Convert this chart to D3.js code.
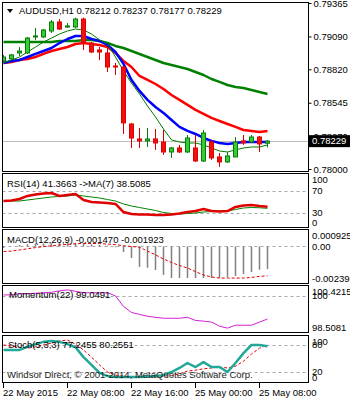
<!DOCTYPE html>
<html>
<head>
<meta charset="utf-8">
<script src="https://cdn.jsdelivr.net/npm/d3@7"></script>
<style>
body{margin:0;background:#fff}
svg text{font-family:"Liberation Sans",Arial,sans-serif;font-size:9.5px;fill:#000}
</style>
</head>
<body>
<div id="plot"></div>
<script>
// hourly AUDUSD bars, 22 May 00:00 .. 25 May 09:00
var timeLabels = ['22 May 2015','22 May 08:00','22 May 16:00','25 May 00:00','25 May 08:00'];
var timeTicks = [0,8,16,24,32];

var openP  = [.78888,.78905,.78954,.78954,.79086,.79086,.79135,.79209,.79168,.79168,.79233,.79036,.78979,.78954,.78847,.78839,.78370,.78247,.78231,.78247,.78222,.78140,.78173,.78140,.78173,.78066,.78222,.78099,.78058,.78099,.78231,.78222,.78263,.78212];
var highP  = [.78938,.78946,.79003,.79086,.79160,.79151,.79225,.79233,.79200,.79245,.79245,.79044,.79003,.78995,.78872,.78847,.78379,.78338,.78338,.78329,.78321,.78181,.78198,.78280,.78280,.78321,.78239,.78132,.78140,.78263,.78280,.78280,.78272,.78237];
var lowP   = [.78872,.78896,.78929,.78946,.79061,.79077,.79118,.79143,.79160,.79160,.78979,.78954,.78896,.78798,.78773,.78288,.78173,.78173,.78181,.78157,.78116,.78091,.78132,.78132,.78058,.78058,.78075,.78017,.78050,.78099,.78198,.78214,.78140,.78177];
var closeP = [.78921,.78938,.78970,.79077,.79094,.79143,.79209,.79151,.79176,.79233,.79044,.78962,.78962,.78839,.78839,.78379,.78255,.78231,.78247,.78214,.78140,.78173,.78140,.78255,.78066,.78296,.78091,.78058,.78107,.78222,.78214,.78263,.78206,.78229];

var maFast = [.78872,.78896,.78921,.78962,.79003,.79044,.79077,.79110,.79135,.79151,.79143,.79110,.79061,.79028,.78921,.78806,.78707,.78617,.78518,.78428,.78329,.78239,.78222,.78214,.78214,.78198,.78173,.78148,.78140,.78157,.78173,.78181,.78181,.78198];
var maMid  = [.78872,.78888,.78896,.78921,.78946,.78970,.78995,.79036,.79069,.79094,.79094,.79069,.79053,.79020,.78962,.78864,.78732,.78642,.78568,.78510,.78461,.78403,.78346,.78313,.78288,.78255,.78231,.78214,.78206,.78214,.78222,.78222,.78222,.78222];
var maSlow = [.78872,.78880,.78896,.78905,.78921,.78946,.78970,.78987,.79003,.79028,.79036,.79028,.79020,.79003,.78954,.78888,.78839,.78765,.78732,.78699,.78658,.78609,.78568,.78527,.78486,.78453,.78420,.78395,.78370,.78346,.78321,.78313,.78305,.78313];
var maLong = [.79044,.79044,.79044,.79044,.79044,.79044,.79044,.79053,.79053,.79053,.79061,.79061,.79053,.79036,.79012,.78995,.78970,.78946,.78921,.78896,.78872,.78855,.78839,.78822,.78798,.78773,.78740,.78716,.78691,.78675,.78666,.78650,.78633,.78617];

var priceTicks = [0.79365,0.79090,0.78820,0.78545,0.78270,0.78000];
var lastPrice = 0.78229;

var rsi   = [51.8,52.7,55.5,61,63.6,65.5,66.4,61,62.7,64.5,53.6,50,49,48,46.4,31.8,28.2,27.3,27.3,26.4,26.4,27.3,29,31.8,33.6,37.3,33.6,32.7,33.6,41,43.6,44.5,42.7,41.37];
var rsiMa = [51.8,51.8,51.8,53.6,55.5,57.3,59.1,60,61,62.7,61,59.1,57.3,54.5,51.8,46.4,42.7,40,37.3,34.5,30.9,29.1,28.2,29.1,30,31.8,32.7,33.6,33.6,36.4,39.1,40,39.5,38.51];

var macdMain   = [-0.0001,0,0.0001,0.00015,0.0002,0.0002,0.00022,0.00025,0.00024,0.00025,0.0002,0.00015,0.0001,0.00005,-0.00005,-0.00036,-0.00075,-0.00135,-0.0014,-0.00155,-0.00187,-0.00207,-0.00207,-0.00207,-0.00207,-0.00207,-0.00207,-0.00207,-0.002,-0.00194,-0.0018,-0.00167,-0.00152,-0.00147];
var macdSignal = [-0.00033,-0.0003,-0.00023,-0.00015,-0.00007,-0.00001,0.00005,0.0001,0.00014,0.00018,0.0002,0.0002,0.00019,0.00016,0.00012,0.00005,0,-0.00005,-0.0003,-0.00055,-0.00082,-0.00105,-0.00125,-0.00141,-0.00165,-0.00187,-0.002,-0.00207,-0.00207,-0.00207,-0.00207,-0.00203,-0.00196,-0.001923];

var momentum = [100.05,100.05,100.10,100.10,100.12,100.14,100.16,100.22,100.26,100.20,100.14,100.14,100.14,100.14,100.01,99.57,99.32,99.24,99.16,99.12,99.08,99.08,99.08,99.12,98.99,98.96,98.92,98.75,98.67,98.79,98.79,98.79,98.92,99.0491];

var stochMain   = [69,69,69,76,82,87,89,87,82,75,53,36,18,11,9,9,9,9,10,11,13,20,29,40,31,42,31,31,20,40,62,80,80,77.2455];
var stochSignal = [80,78,75,73,76,80,84,89,91,82,69,53,36,20,13,11,9,9,9,9,11,12,16,22,24,27,29,31,29,33,44,60,73,80.2551];

//Set up the drawing environment here
var width = 350, height = 400;
var left = 2.5, right = 308.5;

var svg = d3.select('#plot')
	.append('svg')
	.attr('width',width)
	.attr('height',height);

var panels = {
	main:{t:2.5,b:171.5},
	rsi:{t:173.5,b:227.5},
	macd:{t:229.5,b:283.5},
	mom:{t:285.5,b:332.5},
	sto:{t:335.5,b:382.5}
};

var x = d3.scaleLinear().domain([0,33]).range([3.5,267.5]);
var idx = d3.range(openP.length);

var yMain = d3.scaleLinear().domain([0.78000,0.79365]).range([169,3]);
var yRsi = d3.scaleLinear().domain([0,100]).range([229.5,174.5]);
var yMacd = d3.scaleLinear().domain([-0.002395,0.000925]).range([283,232.4]);
var yMom = d3.scaleLinear().domain([98.5081,100.4215]).range([332,286]);
var ySto = d3.scaleLinear().domain([0,100]).range([381,336]);

// clip paths for each panel
Object.keys(panels).forEach(function(k){
	var p = panels[k];
	svg.append('clipPath').attr('id','clip-'+k)
		.append('rect').attr('x',left).attr('y',p.t).attr('width',right-left).attr('height',p.b-p.t);
});

function layer(k){
	return svg.append('g').attr('clip-path','url(#clip-'+k+')');
}

function drawLine(g, values, yScale, color, w, dash){
	var line = d3.line().x(function(d,i){return x(i);}).y(function(d){return yScale(d);});
	g.append('path')
		.datum(values)
		.attr('d',line)
		.attr('fill','none')
		.attr('stroke',color)
		.attr('stroke-width',w)
		.attr('stroke-dasharray',dash||null)
		.attr('stroke-linejoin','round');
}

function hLine(g, yv, dash, color){
	g.append('line')
		.attr('x1',left).attr('x2',right)
		.attr('y1',Math.round(yv)+0.5).attr('y2',Math.round(yv)+0.5)
		.attr('stroke',color||'#a8a8a8')
		.attr('stroke-dasharray',dash||null);
}

// right side labels of sub windows, kept inside the panel
function sideLabels(vals, yScale, p, fmt){
	svg.append('g').selectAll('text')
		.data(vals)
		.enter().append('text')
		.attr('x',312)
		.attr('y',function(d){return Math.max(p.t+6,Math.min(p.b-5,yScale(d)));})
		.attr('dy','0.35em')
		.text(fmt);
}

// ---------- main window ----------
var gMain = layer('main');
hLine(gMain, yMain(lastPrice), null, '#c0c0c0');

drawLine(gMain, maLong, yMain, '#008000', 2.5);
drawLine(gMain, maSlow, yMain, '#ff0000', 2.5);
drawLine(gMain, maMid, yMain, '#0000ff', 2.5);
drawLine(gMain, maFast, yMain, '#007a00', 1);

var candles = gMain.selectAll('g.candle')
	.data(idx)
	.enter().append('g')
	.attr('class','candle');

candles.append('line')
	.attr('x1',function(i){return x(i);})
	.attr('x2',function(i){return x(i);})
	.attr('y1',function(i){return yMain(highP[i]);})
	.attr('y2',function(i){return yMain(lowP[i]);})
	.attr('stroke',function(i){return closeP[i]>=openP[i]?'#0b7a0b':'#d40000';});

candles.append('rect')
	.attr('x',function(i){return x(i)-2;})
	.attr('width',4)
	.attr('y',function(i){return yMain(Math.max(openP[i],closeP[i]));})
	.attr('height',function(i){return Math.max(1,Math.abs(yMain(openP[i])-yMain(closeP[i])));})
	.attr('fill',function(i){return closeP[i]>=openP[i]?'#33cc33':'#ee1111';})
	.attr('stroke',function(i){return closeP[i]>=openP[i]?'#0b7a0b':'#e00000';});

// price axis
var priceAxis = d3.axisRight(yMain)
	.tickValues(priceTicks)
	.tickSize(3)
	.tickPadding(2)
	.tickFormat(d3.format('.5f'));
var gAx = svg.append('g').attr('transform','translate('+right+',0)').call(priceAxis);
gAx.select('.domain').remove();
gAx.selectAll('text').style('font-family','"Liberation Sans",Arial,sans-serif').style('font-size','9.5px').attr('fill','#000');
gAx.selectAll('line').attr('stroke','#000');

// last price box
svg.append('rect').attr('x',309).attr('y',yMain(lastPrice)-6).attr('width',41).attr('height',12).attr('fill','#000');
svg.append('text').attr('x',312).attr('y',yMain(lastPrice)).attr('dy','0.35em').style('fill','#fff').text(lastPrice.toFixed(5));

// title
svg.append('path').attr('d','M7,9 L13,9 L10,13 Z').attr('fill','#000');
svg.append('text').attr('x',19).attr('y',14)
	.text('AUDUSD,H1 '+openP[33].toFixed(5)+' '+highP[33].toFixed(5)+' '+lowP[33].toFixed(5)+' '+closeP[33].toFixed(5));

// ---------- RSI ----------
var gRsi = layer('rsi');
hLine(gRsi, yRsi(70), '3,3');
hLine(gRsi, yRsi(30), '3,3');
drawLine(gRsi, rsiMa, yRsi, '#008000', 1);
drawLine(gRsi, rsi, yRsi, '#e00000', 2.5);
svg.append('text').attr('x',7).attr('y',187).text('RSI(14) 41.3663  ->MA(7) 38.5085');
sideLabels([100,70,30,0], yRsi, panels.rsi, function(d){return d;});

// ---------- MACD ----------
var gMacd = layer('macd');
hLine(gMacd, yMacd(0), '3,3');
gMacd.selectAll('line.bar')
	.data(idx)
	.enter().append('line')
	.attr('class','bar')
	.attr('x1',function(i){return x(i);})
	.attr('x2',function(i){return x(i);})
	.attr('y1',yMacd(0))
	.attr('y2',function(i){return yMacd(macdMain[i]);})
	.attr('stroke','#808080')
	.attr('stroke-width',1.5);
drawLine(gMacd, macdSignal, yMacd, '#e00000', 1, '3,2');
svg.append('text').attr('x',7).attr('y',243).text('MACD(12,26,9) -0.001470 -0.001923');
sideLabels([0.000925,0,-0.002395], yMacd, panels.macd, function(d){return d===0?'0.00':d.toFixed(6);});

// ---------- Momentum ----------
var gMom = layer('mom');
hLine(gMom, yMom(100), '3,3');
drawLine(gMom, momentum, yMom, '#d21ed2', 1);
svg.append('text').attr('x',9).attr('y',298).text('Momentum(22) 99.0491');
sideLabels([100.4215,100,98.5081], yMom, panels.mom, function(d){return d===100?'100':d.toFixed(4);});

// ---------- Stochastic ----------
var gSto = layer('sto');
hLine(gSto, ySto(80), '3,3');
hLine(gSto, ySto(20), '3,3');
drawLine(gSto, stochSignal, ySto, '#e00000', 1, '3,2');
drawLine(gSto, stochMain, ySto, '#20a898', 2.5);
svg.append('text').attr('x',8).attr('y',348).text('Stoch(5,3,3) 77.2455 80.2551');
sideLabels([100,80,20,0], ySto, panels.sto, function(d){return d;});
svg.append('text').attr('x',7).attr('y',378).style('fill','#222').text('Windsor Direct, \u00a9 2001-2014, MetaQuotes Software Corp.');

// panel frames
Object.keys(panels).forEach(function(k){
	var p = panels[k];
	svg.append('rect')
		.attr('x',left).attr('y',p.t)
		.attr('width',right-left).attr('height',p.b-p.t)
		.attr('fill','none').attr('stroke','#000');
});

// time axis
var gTime = svg.append('g');
gTime.selectAll('line')
	.data(timeTicks)
	.enter().append('line')
	.attr('x1',function(d){return x(d);})
	.attr('x2',function(d){return x(d);})
	.attr('y1',383).attr('y2',388)
	.attr('stroke','#000');
gTime.selectAll('text')
	.data(timeTicks)
	.enter().append('text')
	.attr('x',function(d){return x(d)-0.5;})
	.attr('y',396)
	.text(function(d,i){return timeLabels[i];});
</script>
</body>
</html>
